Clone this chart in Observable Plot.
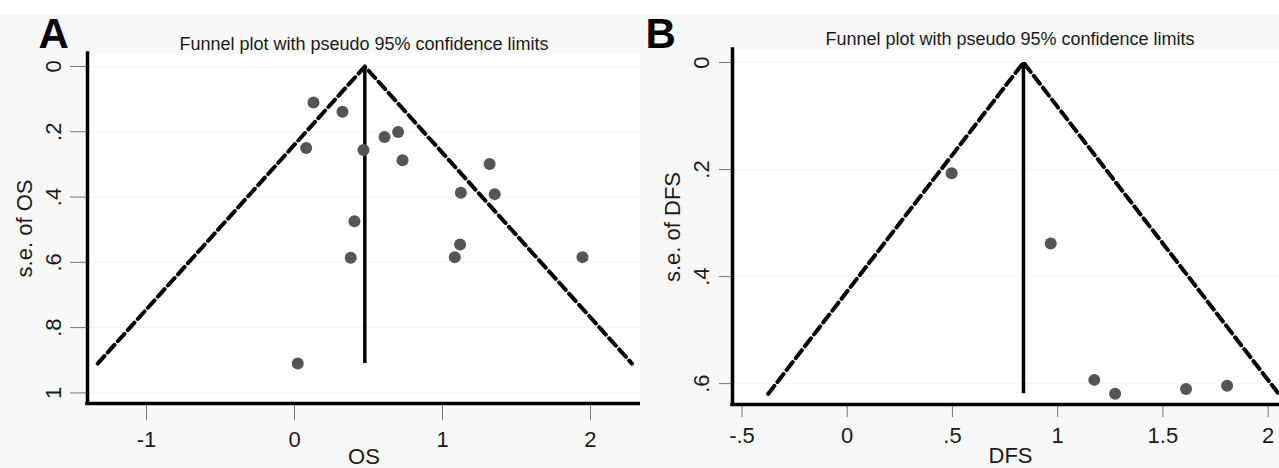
<!DOCTYPE html>
<html><head><meta charset="utf-8">
<script src="https://cdn.jsdelivr.net/npm/d3@7"></script>
<script src="https://cdn.jsdelivr.net/npm/@observablehq/plot@0.6"></script>
<style>
html,body{margin:0;padding:0;background:#fff;}
#wrap{display:flex;width:1279px;height:468px;overflow:hidden;}
#wrap svg{display:block;}
</style></head><body><div id="wrap"><div id="a"></div><div id="b"></div></div>
<script>
const titleText = "Funnel plot with pseudo 95% confidence limits";

// Panel A: OS
const osEffect = [0.128, 0.324, 0.079, 0.466, 0.608, 0.700, 0.730, 1.318, 1.124, 1.353, 0.405, 1.119, 0.380, 1.083, 1.946, 0.022];
const osSE     = [0.110, 0.139, 0.250, 0.256, 0.216, 0.201, 0.287, 0.299, 0.387, 0.391, 0.474, 0.545, 0.586, 0.584, 0.584, 0.910];
const osPooled = 0.475;
const osSEMax = 0.91;
const osFunnelX  = [-1.33, 0.475, 2.28];
const osFunnelSE = [0.91, 0, 0.91];
const osXTicks = [-1, 0, 1, 2];
const osXTickLabels = ["-1", "0", "1", "2"];
const osYTicks = [0, 0.2, 0.4, 0.6, 0.8, 1];
const osYTickLabels = ["0", ".2", ".4", ".6", ".8", "1"];

// Panel B: DFS
const dfsEffect = [0.496, 0.967, 1.174, 1.273, 1.610, 1.805];
const dfsSE     = [0.207, 0.338, 0.593, 0.619, 0.610, 0.604];
const dfsPooled = 0.8375;
const dfsSEMax = 0.619;
const dfsFunnelX  = [-0.375, 0.8375, 2.05];
const dfsFunnelSE = [0.619, 0, 0.619];
const dfsXTicks = [-0.5, 0, 0.5, 1, 1.5, 2];
const dfsXTickLabels = ["-.5", "0", ".5", "1", "1.5", "2"];
const dfsYTicks = [0, 0.2, 0.4, 0.6];
const dfsYTickLabels = ["0", ".2", ".4", ".6"];

function panel(c) {
  const pts = c.effect.map((e, i) => ({x: e, se: c.se[i]}));
  const funnel = c.funnelX.map((x, i) => ({x, se: c.funnelSE[i]}));
  const fmtX = d => c.xTickLabels[c.xTicks.indexOf(d)];
  const fmtY = d => c.yTickLabels[c.yTicks.indexOf(d)];
  const dark = "#1a1a1a";
  return Plot.plot({
    width: c.width, height: 468,
    marginLeft: c.ml, marginRight: 0, marginTop: c.mt, marginBottom: c.mb,
    style: {fontFamily: "'Liberation Sans', Arial, sans-serif", background: "linear-gradient(#ffffff 0 15px, #f8f8f8 15px)", color: dark},
    x: {domain: c.xDomain},
    y: {domain: c.yDomain, reverse: true},
    marks: [
      Plot.frame({fill: "white", stroke: "none"}),
      Plot.gridY(c.yTicks, {stroke: "#f4f4f4", strokeOpacity: 1}),
      Plot.line(funnel, {x: "x", y: "se", stroke: "black", strokeWidth: 4, strokeDasharray: "10,5"}),
      Plot.ruleX([c.pooled], {y1: 0, y2: c.seMax, stroke: "black", strokeWidth: 3.5}),
      Plot.dot(pts, {x: "x", y: "se", r: 6, fill: "#555555", stroke: "none"}),
      Plot.axisY(c.yTicks, {tickFormat: fmtY, tickSize: c.yTickSize, tickPadding: c.yTickPad, tickRotate: -90, fontSize: 22, stroke: "#777", fill: dark, label: null}),
      Plot.axisX(c.xTicks, {tickFormat: fmtX, tickSize: c.xTickSize, tickPadding: c.xTickPad, fontSize: 22, stroke: "#777", fill: dark, label: null}),
      Plot.ruleX([c.xDomain[0]], {stroke: "black", strokeWidth: 3.5, strokeLinecap: "square"}),
      Plot.ruleY([c.yDomain[1]], {stroke: "black", strokeWidth: 3.5, strokeLinecap: "square"}),
      Plot.text([c.letter], {frameAnchor: "top-left", dx: c.letterDx, dy: c.letterDy, textAnchor: "start", lineAnchor: "bottom", fontSize: 42, fontWeight: "bold", fill: "black"}),
      Plot.text([titleText], {frameAnchor: "top", dx: c.titleDx, dy: c.titleDy, lineAnchor: "bottom", fontSize: 18, fill: dark}),
      Plot.text([c.yLabel], {frameAnchor: "left", dx: c.yLabelDx, rotate: -90, textAnchor: "middle", lineAnchor: "middle", fontSize: 22, fill: dark}),
      Plot.text([c.xLabel], {frameAnchor: "bottom", dx: c.xLabelDx, dy: c.xLabelDy, lineAnchor: "bottom", fontSize: 22, fill: dark})
    ]
  });
}

document.getElementById("a").append(panel({
  letter: "A", xLabel: "OS", yLabel: "s.e. of OS",
  effect: osEffect, se: osSE, pooled: osPooled, seMax: osSEMax,
  funnelX: osFunnelX, funnelSE: osFunnelSE,
  xTicks: osXTicks, xTickLabels: osXTickLabels, yTicks: osYTicks, yTickLabels: osYTickLabels,
  xDomain: [-1.399, 2.338], yDomain: [-0.0398, 1.0324],
  width: 640, ml: 87, mt: 53, mb: 65,
  yTickSize: 17, yTickPad: 10, xTickSize: 17, xTickPad: 11,
  letterDx: -49, letterDy: -6, titleDx: 0, titleDy: -4, yLabelDx: -63, xLabelDx: 0, xLabelDy: 60
}));

document.getElementById("b").append(panel({
  letter: "B", xLabel: "DFS", yLabel: "s.e. of DFS",
  effect: dfsEffect, se: dfsSE, pooled: dfsPooled, seMax: dfsSEMax,
  funnelX: dfsFunnelX, funnelSE: dfsFunnelSE,
  xTicks: dfsXTicks, xTickLabels: dfsXTickLabels, yTicks: dfsYTicks, yTickLabels: dfsYTickLabels,
  xDomain: [-0.545, 2.054], yDomain: [-0.0243, 0.639],
  width: 639, ml: 92, mt: 49, mb: 64,
  yTickSize: 13, yTickPad: 11, xTickSize: 13, xTickPad: 10,
  letterDx: -87, letterDy: -2, titleDx: 4, titleDy: -5, yLabelDx: -60, xLabelDx: 4.5, xLabelDy: 58
}));
</script></body></html>
